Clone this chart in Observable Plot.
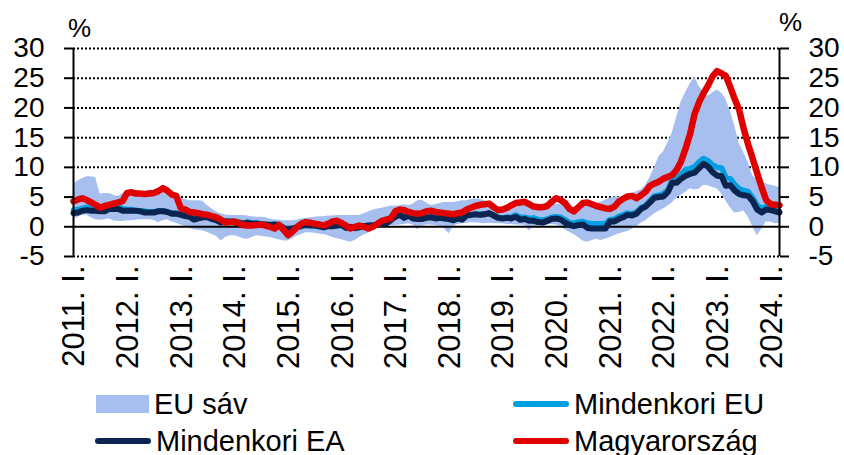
<!DOCTYPE html>
<html><head><meta charset="utf-8">
<script src="https://cdn.jsdelivr.net/npm/d3@7"></script>
<script src="https://cdn.jsdelivr.net/npm/@observablehq/plot@0.6"></script>
<style>
body{margin:0;background:#fff;font-family:"Liberation Sans",Arial,sans-serif;}
#wrap{position:relative;width:844px;height:455px;overflow:hidden;background:#fff}
#chart svg{display:block}
.leg{position:absolute;height:30px;display:flex;align-items:center;font-size:29px;color:#000;white-space:nowrap}
.sw{display:inline-block;margin-right:5px}
</style></head>
<body><div id="wrap"><div id="chart"></div><div id="legend"></div></div>
<script>
// Monthly data, 2011 Jan – 2024 Mar (159 months)
const firstMonth = "2011-01-01";
const lastMonth = "2024-03-01";

const euBandHigh = [
 7.2,7.7,8.1,8.4,8.4,8.3,5.5,5.6,5.6,5.3,5.0,5.6,
 6.0,6.2,6.1,5.9,6.0,6.2,6.1,5.8,5.9,5.7,5.4,5.2,
 4.9,4.6,4.4,4.4,4.4,4.3,3.6,3.0,2.5,2.2,2.0,1.9,
 1.9,1.9,1.9,1.8,1.7,1.6,1.6,1.5,1.3,1.2,1.1,1.0,
 1.0,1.0,1.1,1.3,1.4,1.5,1.6,1.7,1.7,1.8,1.8,1.9,
 1.9,1.9,1.9,1.9,1.9,2.2,2.5,2.8,3.0,3.1,3.3,3.5,
 3.5,3.5,3.7,3.6,3.8,4.4,4.5,4.0,3.6,3.7,3.9,4.1,
 4.1,4.1,4.2,4.4,4.4,4.6,4.7,4.6,4.4,4.0,3.5,3.4,
 3.3,3.3,3.2,3.3,3.5,3.6,3.5,3.3,3.2,3.4,3.6,3.8,
 3.8,3.8,3.6,3.3,2.6,2.4,3.2,3.6,3.8,3.9,4.1,4.5,
 4.8,5.0,5.0,5.1,5.2,5.6,5.9,6.2,7.0,8.3,10.0,11.8,
 12.6,14.2,15.8,18.4,21.0,22.6,24.0,25.2,23.6,22.6,22.0,22.5,
 23.0,22.5,21.5,19.5,17.0,14.0,12.5,10.8,8.5,8.0,7.5,7.2,
 7.0,6.8,6.6
];
const euBandLow = [
 1.3,1.6,1.9,2.0,1.5,1.2,1.1,1.2,1.3,1.0,0.9,0.9,
 1.0,1.0,1.1,1.2,1.2,1.2,1.1,0.7,1.0,1.2,0.8,0.6,
 0.3,0.0,-0.3,-0.5,-0.6,-0.7,-0.9,-1.3,-1.6,-2.4,-1.8,-1.5,
 -1.5,-1.7,-2.0,-2.1,-1.8,-1.5,-1.6,-1.7,-1.8,-2.0,-2.2,-2.4,
 -2.4,-2.0,-1.6,-1.3,-1.0,-1.0,-1.1,-1.2,-1.3,-1.5,-1.8,-2.0,
 -2.2,-2.4,-2.6,-2.3,-1.8,-1.4,-1.1,-0.7,-0.3,0.0,0.1,0.2,
 0.2,0.3,0.4,0.5,0.3,-0.5,0.1,0.3,0.3,0.2,0.0,-0.3,
 -1.2,0.1,0.4,0.5,0.6,0.7,0.7,0.6,0.5,0.6,0.5,0.5,
 0.5,0.4,0.4,0.3,0.3,0.2,-0.7,0.0,0.1,0.2,0.3,0.4,
 0.3,0.0,-0.5,-0.9,-1.3,-1.8,-2.4,-2.6,-2.3,-2.1,-2.3,-2.1,
 -1.8,-1.5,-1.2,-1.0,-0.8,-0.4,0.0,0.6,1.0,1.6,2.2,2.6,
 3.0,3.5,4.0,4.8,5.3,5.8,6.4,6.2,6.3,7.0,6.9,6.6,
 6.4,5.5,4.4,3.2,2.3,2.4,2.7,1.6,0.0,-1.5,-0.4,0.8,
 0.8,0.5,0.6
];
const mindenkoriEU = [
 2.8,2.9,3.1,3.3,3.2,3.1,2.9,2.9,3.3,3.4,3.4,3.0,
 2.9,2.9,2.7,2.7,2.6,2.5,2.5,2.7,2.7,2.5,2.3,2.3,
 2.1,2.0,1.9,1.4,1.6,1.7,1.7,1.5,1.3,0.9,1.0,1.0,
 0.9,0.8,0.6,0.8,0.6,0.7,0.5,0.4,0.4,0.4,0.3,-0.1,
 -0.5,-0.3,-0.1,0.0,0.3,0.2,0.2,0.0,-0.1,0.1,0.1,0.2,
 0.3,-0.1,-0.1,-0.3,-0.1,0.1,0.2,0.3,0.4,0.6,0.7,1.2,
 1.7,2.0,1.6,1.9,1.6,1.4,1.5,1.7,1.8,1.7,1.8,1.7,
 1.6,1.4,1.5,1.4,1.9,2.0,2.1,2.1,2.2,2.2,2.0,1.6,
 1.5,1.6,1.6,2.0,1.6,1.6,1.4,1.5,1.2,1.1,1.3,1.6,
 1.7,1.6,1.2,0.7,0.6,0.8,0.9,0.6,0.5,0.5,0.5,0.5,
 1.2,1.3,1.7,2.0,2.3,2.2,2.5,3.2,3.6,4.4,5.2,5.3,
 5.6,6.2,7.8,8.1,8.8,9.6,9.8,10.1,10.9,11.5,11.1,10.4,
 10.0,9.9,8.3,8.1,7.1,6.4,6.1,5.9,4.9,3.6,3.1,3.4,
 3.1,2.8,2.6
];
const mindenkoriEA = [
 2.3,2.4,2.7,2.8,2.7,2.7,2.6,2.6,3.0,3.0,3.0,2.7,
 2.7,2.7,2.7,2.6,2.4,2.4,2.4,2.6,2.6,2.5,2.2,2.2,
 2.0,1.8,1.7,1.2,1.4,1.6,1.6,1.3,1.1,0.7,0.9,0.8,
 0.7,0.7,0.5,0.7,0.5,0.5,0.4,0.4,0.3,0.4,0.3,-0.2,
 -0.6,-0.3,-0.1,0.2,0.3,0.2,0.2,0.1,-0.1,0.1,0.1,0.2,
 0.3,-0.2,0.0,-0.2,-0.1,0.1,0.2,0.2,0.4,0.5,0.6,1.1,
 1.7,2.0,1.5,1.9,1.4,1.3,1.3,1.5,1.6,1.4,1.5,1.4,
 1.3,1.1,1.4,1.2,1.9,2.0,2.1,2.0,2.1,2.3,1.9,1.5,
 1.4,1.5,1.4,1.7,1.2,1.3,1.0,1.0,0.8,0.7,1.0,1.3,
 1.4,1.2,0.7,0.3,0.1,0.3,0.4,-0.2,-0.3,-0.3,-0.3,-0.3,
 0.9,0.9,1.3,1.6,2.0,1.9,2.2,3.0,3.4,4.1,4.9,5.0,
 5.1,5.9,7.4,7.4,8.1,8.6,8.9,9.1,9.9,10.6,10.1,9.2,
 8.6,8.5,6.9,7.0,6.1,5.5,5.3,5.2,4.3,2.9,2.4,2.9,
 2.8,2.6,2.4
];
const magyarorszag = [
 4.3,4.6,4.8,4.5,4.1,3.7,3.2,3.5,3.7,3.9,4.1,4.3,
 5.7,5.8,5.6,5.6,5.5,5.6,5.7,6.0,6.5,6.1,5.4,5.2,
 3.1,2.9,2.5,2.4,2.3,2.1,2.0,1.8,1.6,1.2,0.7,0.8,
 0.9,0.6,0.3,0.2,0.2,0.3,0.4,0.2,0.0,-0.3,0.3,-0.5,
 -1.4,-0.8,-0.1,0.5,0.8,0.7,0.5,0.4,0.2,0.5,0.9,1.0,
 0.6,0.2,-0.3,0.0,0.2,0.0,-0.3,0.0,0.5,1.0,1.2,1.4,
 2.6,2.9,2.8,2.5,2.3,2.2,2.3,2.6,2.7,2.5,2.4,2.3,
 2.2,2.1,2.3,2.4,2.9,3.2,3.5,3.7,3.8,3.9,3.3,2.8,
 2.9,3.2,3.6,4.0,4.1,4.2,3.8,3.4,3.3,3.3,3.5,4.2,
 4.8,4.5,4.0,3.0,2.6,3.3,4.0,4.1,3.8,3.5,3.3,3.1,
 3.0,3.4,4.2,4.7,5.1,5.2,4.8,5.3,5.9,6.9,7.3,7.6,
 8.1,8.4,8.7,9.6,11.0,13.2,15.6,19.0,21.0,22.5,23.8,25.3,
 26.2,25.8,25.4,23.5,21.5,19.6,16.5,13.8,11.4,9.0,6.6,4.5,
 3.8,3.7,3.6
];
const yTicks = [-5,0,5,10,15,20,25,30];
const gridLines = [-5,5,10,15,20,25,30];
const xTickLabels = ["2011. I.","2012. I.","2013. I.","2014. I.","2015. I.","2016. I.","2017. I.","2018. I.","2019. I.","2020. I.","2021. I.","2022. I.","2023. I.","2024. I."];
const unitLabel = "%";
const legendItems = [
  {label:"EU sáv", color:"#a6bfee", kind:"area"},
  {label:"Mindenkori EU", color:"#00a0e0", kind:"line"},
  {label:"Mindenkori EA", color:"#0c2450", kind:"line"},
  {label:"Magyarország", color:"#e00000", kind:"line"}
];

const start = new Date(firstMonth), end = new Date(lastMonth);
const months = d3.utcMonth.range(start, d3.utcMonth.offset(end, 1));
const rows = months.map((d, i) => ({date: d, lo: euBandLow[i], hi: euBandHigh[i], eu: mindenkoriEU[i], ea: mindenkoriEA[i], hu: magyarorszag[i]}));
const yearStarts = xTickLabels.map((_, i) => d3.utcYear.offset(start, i));
const FONT = "'Liberation Sans', Arial, sans-serif";

const chart = Plot.plot({
  width: 844, height: 385,
  marginLeft: 73, marginRight: 65, marginTop: 48, marginBottom: 129,
  x: {type: "utc", domain: [start, end], axis: null},
  y: {domain: [-5, 30], axis: null},
  style: {fontFamily: FONT, fontSize: "28px", color: "#000", background: "#fff", overflow: "visible"},
  marks: [
    Plot.ruleY(gridLines, {stroke: "#000", strokeWidth: 2, strokeDasharray: "2,2"}),
    Plot.areaY(rows, {x: "date", y1: "lo", y2: "hi", fill: legendItems[0].color}),
    Plot.ruleY([0], {stroke: "#000", strokeWidth: 2}),
    Plot.lineY(rows, {x: "date", y: "eu", stroke: legendItems[1].color, strokeWidth: 5.5, strokeLinejoin: "round"}),
    Plot.lineY(rows, {x: "date", y: "ea", stroke: legendItems[2].color, strokeWidth: 6, strokeLinejoin: "round"}),
    Plot.lineY(rows, {x: "date", y: "hu", stroke: legendItems[3].color, strokeWidth: 6.5, strokeLinejoin: "round"}),
    Plot.ruleX([start, end], {y1: -5, y2: 30, stroke: "#000", strokeWidth: 2}),
    Plot.axisY({anchor: "left", ticks: yTicks, tickSize: 9, tickPadding: 20, strokeWidth: 2, fontSize: 28, tickFormat: d => String(d)}),
    Plot.axisY({anchor: "right", ticks: yTicks, tickSize: 9, tickPadding: 20, strokeWidth: 2, fontSize: 28, tickFormat: d => String(d)}),
    Plot.text(yearStarts, {x: d => d, y: -5, text: (d, i) => xTickLabels[i], rotate: -90, textAnchor: "end", lineAnchor: "middle", dx: 1, dy: 9, fontSize: 31}),
    Plot.text([unitLabel], {frameAnchor: "top-left", textAnchor: "middle", lineAnchor: "middle", dx: 6, dy: -20, fontSize: 26}),
    Plot.text([unitLabel], {frameAnchor: "top-right", textAnchor: "middle", lineAnchor: "middle", dx: 11, dy: -26, fontSize: 26})
  ]
});
document.getElementById("chart").appendChild(chart);

// Legend below the chart (two columns, two rows)
const legPos = [
  {left: 96, cy: 404}, {left: 513, cy: 404},
  {left: 95, cy: 441}, {left: 513, cy: 441}
];
const legend = document.getElementById("legend");
legendItems.forEach((it, i) => {
  const p = legPos[i];
  const div = document.createElement("div");
  div.className = "leg";
  div.style.left = p.left + "px";
  div.style.top = (p.cy - 15) + "px";
  const sw = document.createElement("span");
  sw.className = "sw";
  if (it.kind === "area") {
    sw.style.width = "53px"; sw.style.height = "18px"; sw.style.background = it.color;
  } else {
    sw.style.width = "56px"; sw.style.height = "6px"; sw.style.background = it.color; sw.style.borderRadius = "3px";
  }
  div.appendChild(sw);
  const t = document.createElement("span");
  t.textContent = it.label;
  div.appendChild(t);
  legend.appendChild(div);
});
</script>
</body></html>
